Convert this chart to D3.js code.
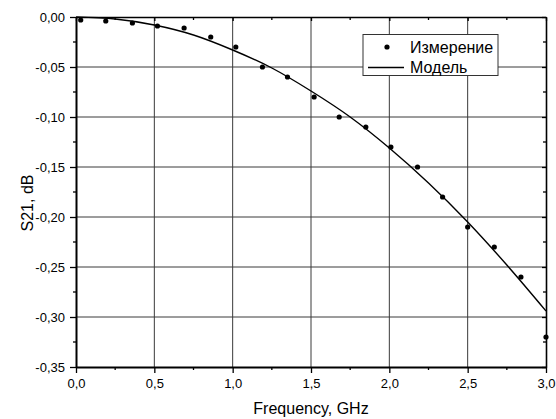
<!DOCTYPE html>
<html>
<head>
<meta charset="utf-8">
<script src="https://cdn.jsdelivr.net/npm/d3@7"></script>
<style>
  html, body { margin: 0; padding: 0; background: #fff; }
  svg { display: block; font-family: "Liberation Sans", Arial, sans-serif; }
</style>
</head>
<body>
<svg id="chart" width="556" height="419"></svg>
<script>
// Measured points (Frequency, GHz ; S21, dB)
const measFreq = [0.03, 0.19, 0.36, 0.52, 0.69, 0.86, 1.02, 1.19, 1.35, 1.52, 1.68, 1.85, 2.01, 2.18, 2.34, 2.50, 2.67, 2.84, 3.00];
const measS21  = [-0.003, -0.004, -0.006, -0.009, -0.011, -0.020, -0.030, -0.050, -0.060, -0.080, -0.100, -0.110, -0.130, -0.150, -0.180, -0.210, -0.230, -0.260, -0.320];

// Model curve
const modelFreq = [0, 0.25, 0.5, 0.75, 1.0, 1.25, 1.5, 1.75, 2.0, 2.25, 2.5, 2.75, 3.0];
const modelS21  = [0, -0.002, -0.008, -0.018, -0.033, -0.051, -0.074, -0.100, -0.131, -0.166, -0.205, -0.248, -0.294];

const xTicks = [0, 0.5, 1.0, 1.5, 2.0, 2.5, 3.0];
const xMinor = [0.25, 0.75, 1.25, 1.75, 2.25, 2.75];
const yTicks = [0, -0.05, -0.10, -0.15, -0.20, -0.25, -0.30, -0.35];
const yMinor = [-0.025, -0.075, -0.125, -0.175, -0.225, -0.275, -0.325];

const legendLabels = ["Измерение", "Модель"];
const xTitle = "Frequency, GHz";
const yTitle = "S21, dB";

const loc = d3.formatLocale({decimal: ",", thousands: " ", grouping: [3], currency: ["", ""], minus: "-"});
const fx = loc.format(".1f");
const fy = loc.format(".2f");

const svg = d3.select("#chart");
const m = {left: 76, top: 17, right: 10, bottom: 52};
const W = 556 - m.left - m.right;  // 470
const H = 419 - m.top - m.bottom;  // 350

const x = d3.scaleLinear().domain([0, 3]).range([0, W]);
const y = d3.scaleLinear().domain([-0.35, 0]).range([H, 0]);

const g = svg.append("g").attr("transform", `translate(${m.left},${m.top})`);

// grid
g.append("g").selectAll("line").data(xTicks.slice(1, -1)).join("line")
  .attr("x1", d => x(d)).attr("x2", d => x(d)).attr("y1", 0).attr("y2", H)
  .attr("stroke", "#3a3a3a").attr("stroke-width", 1);
g.append("g").selectAll("line").data(yTicks.slice(1, -1)).join("line")
  .attr("y1", d => y(d)).attr("y2", d => y(d)).attr("x1", 0).attr("x2", W)
  .attr("stroke", "#3a3a3a").attr("stroke-width", 1);

// model line
const line = d3.line().x((d, i) => x(modelFreq[i])).y(d => y(d)).curve(d3.curveMonotoneX);
g.append("path").datum(modelS21).attr("d", line)
  .attr("fill", "none").attr("stroke", "#000").attr("stroke-width", 1.4);

// measured points
g.append("g").selectAll("circle").data(measS21).join("circle")
  .attr("cx", (d, i) => x(measFreq[i])).attr("cy", d => y(d)).attr("r", 2.6).attr("fill", "#000");

// axes
const xAxis = g.append("g").attr("transform", `translate(0,${H})`)
  .call(d3.axisBottom(x).tickValues(xTicks).tickFormat(fx).tickSizeInner(6).tickSizeOuter(0).tickPadding(6));
xAxis.append("g").selectAll("line").data(xMinor).join("line")
  .attr("x1", d => x(d)).attr("x2", d => x(d)).attr("y1", 0).attr("y2", 3).attr("stroke", "#000").attr("stroke-width", 1.3);
const yAxis = g.append("g")
  .call(d3.axisLeft(y).tickValues(yTicks).tickFormat(fy).tickSizeInner(6).tickSizeOuter(0).tickPadding(5));
yAxis.append("g").selectAll("line").data(yMinor).join("line")
  .attr("y1", d => y(d)).attr("y2", d => y(d)).attr("x1", 0).attr("x2", -3).attr("stroke", "#000").attr("stroke-width", 1.3);

[xAxis, yAxis].forEach(a => {
  a.select(".domain").attr("stroke-width", 2);
  a.selectAll(".tick line").attr("stroke-width", 1.3);
  a.selectAll("text").attr("font-size", 13).attr("fill", "#000").attr("font-family", "Liberation Sans, Arial, sans-serif");
});

// top & right frame with inward ticks
const topAx = g.append("g")
  .call(d3.axisTop(x).tickValues(xTicks).tickFormat("").tickSizeInner(-4).tickSizeOuter(0));
topAx.append("g").selectAll("line").data(xMinor).join("line")
  .attr("x1", d => x(d)).attr("x2", d => x(d)).attr("y1", 0).attr("y2", 3).attr("stroke", "#000").attr("stroke-width", 1.3);
const rightAx = g.append("g").attr("transform", `translate(${W},0)`)
  .call(d3.axisRight(y).tickValues(yTicks).tickFormat("").tickSizeInner(-4).tickSizeOuter(0));
rightAx.append("g").selectAll("line").data(yMinor).join("line")
  .attr("y1", d => y(d)).attr("y2", d => y(d)).attr("x1", 0).attr("x2", -3).attr("stroke", "#000").attr("stroke-width", 1.3);
[topAx, rightAx].forEach(a => {
  a.select(".domain").attr("stroke-width", 1.6);
  a.selectAll(".tick line").attr("stroke-width", 1.3);
});

// titles
svg.append("text").attr("x", m.left + W / 2).attr("y", 414).attr("text-anchor", "middle")
  .attr("font-size", 16).text(xTitle);
svg.append("text").attr("transform", `translate(33,203) rotate(-90)`).attr("text-anchor", "middle")
  .attr("font-size", 16).text(yTitle);

// legend
const lg = svg.append("g");
lg.append("rect").attr("x", 363).attr("y", 34.5).attr("width", 135).attr("height", 41)
  .attr("fill", "#fff").attr("stroke", "#333").attr("stroke-width", 1);
lg.append("circle").attr("cx", 387).attr("cy", 47).attr("r", 2.6).attr("fill", "#000");
lg.append("line").attr("x1", 368).attr("x2", 404).attr("y1", 67.5).attr("y2", 67.5).attr("stroke", "#000").attr("stroke-width", 1.4);
lg.selectAll("text.leg").data(legendLabels).join("text").attr("class", "leg")
  .attr("x", 410).attr("y", (d, i) => 52.5 + i * 20.5).attr("font-size", 16).text(d => d);
</script>
</body>
</html>
